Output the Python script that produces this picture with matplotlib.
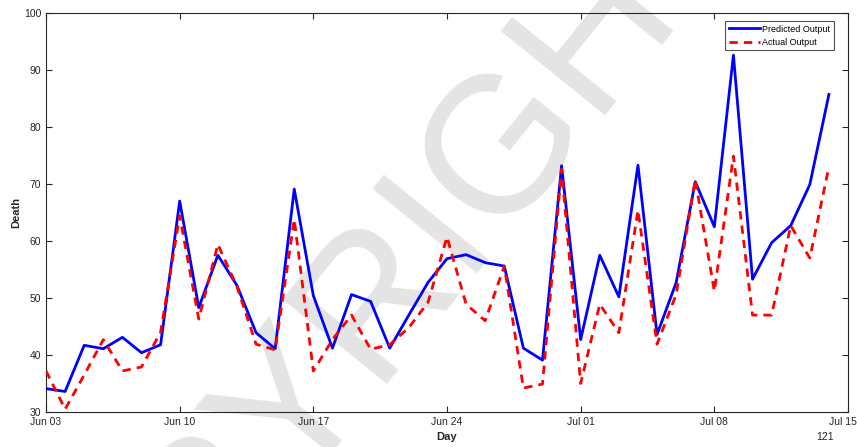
import matplotlib
matplotlib.use("Agg")
import matplotlib.pyplot as plt
import matplotlib.dates as mdates
from matplotlib.transforms import ScaledTranslation
import datetime as dt

plt.rcParams['font.family'] = ['Liberation Sans', 'DejaVu Sans']

start = dt.date(2021, 6, 3)
predicted = [34.1, 33.6, 41.7, 41.1, 43.1, 40.4, 41.8, 67.0, 48.3, 57.5,
             52.2, 43.9, 41.1, 69.1, 50.4, 41.2, 50.6, 49.4, 41.2, 47.0,
             52.7, 56.9, 57.6, 56.2, 55.6, 41.2, 39.1, 73.2, 42.7, 57.5,
             50.2, 73.3, 43.6, 52.7, 70.4, 62.5, 92.6, 53.3, 59.7, 62.7,
             69.9, 85.7]
actual = [37.2, 30.5, 36.5, 42.7, 37.2, 37.9, 44.0, 64.4, 46.3, 59.4,
          52.0, 41.9, 40.9, 63.8, 37.2, 42.7, 47.0, 41.0, 41.8, 44.8,
          49.2, 60.7, 48.9, 46.0, 55.6, 34.2, 34.9, 72.6, 35.0, 48.9,
          43.9, 65.4, 41.9, 50.6, 70.8, 51.2, 74.9, 47.0, 47.0, 62.7,
          57.0, 73.0]
dates = [start + dt.timedelta(days=i) for i in range(len(predicted))]
tick_dates = [dt.date(2021, 6, 3) + dt.timedelta(days=7 * k) for k in range(7)]
y_ticks = [30, 40, 50, 60, 70, 80, 90, 100]

fig = plt.figure(figsize=(8.57, 4.47), dpi=100)
ax = fig.add_axes([0.0537, 0.0783, 0.9358, 0.8927])
ax.set_zorder(1)
ax.patch.set_alpha(0)

# watermark (behind the axes content)
fig.text(391 / 857, 1 - 367 / 447, "COPYRIGHT", fontsize=140, color='#e4e4e4',
         rotation=51, rotation_mode='anchor', ha='center', va='baseline', zorder=-5)

ax.plot(dates, predicted, color='#0000ff', lw=2.0, label='Predicted Output', zorder=3)
ax.plot(dates, actual, color='#ff0000', lw=2.0, ls=(0, (3, 2.2)), label='Actual Output', zorder=3)

ax.set_xlim(dt.date(2021, 6, 3), dt.date(2021, 7, 15))
ax.set_ylim(30, 100)
ax.set_xticks(tick_dates)
ax.xaxis.set_major_formatter(mdates.DateFormatter('%b %d'))
ax.set_yticks(y_ticks)
ax.tick_params(direction='in', top=True, right=True, labelsize=7.5, colors='#262626',
               length=4, width=0.8)
for s in ax.spines.values():
    s.set_color('#262626')
    s.set_linewidth(0.8)
ax.set_xlabel('Day', fontsize=8, fontweight='bold', color='#262626', labelpad=4)
ax.set_ylabel('Death', fontsize=8, fontweight='bold', color='#262626', labelpad=1.5)
fig.text(0.963, 0.012, '121', fontsize=7.5, color='#262626', ha='center', va='bottom')

fig.canvas.draw()
last = ax.get_xticklabels()[-1]
last.set_transform(last.get_transform() + ScaledTranslation(-5 / 100, 0, fig.dpi_scale_trans))

leg = ax.legend(loc='upper right', bbox_to_anchor=(834 / 857, 1 - 21 / 447),
                bbox_transform=fig.transFigure, borderaxespad=0,
                fontsize=6.5, frameon=True, fancybox=False,
                edgecolor='#262626', handlelength=3.4, borderpad=0.4, labelspacing=0.45,
                handletextpad=0.3)
leg.get_frame().set_linewidth(0.8)

fig.savefig('out.png', dpi=100)
